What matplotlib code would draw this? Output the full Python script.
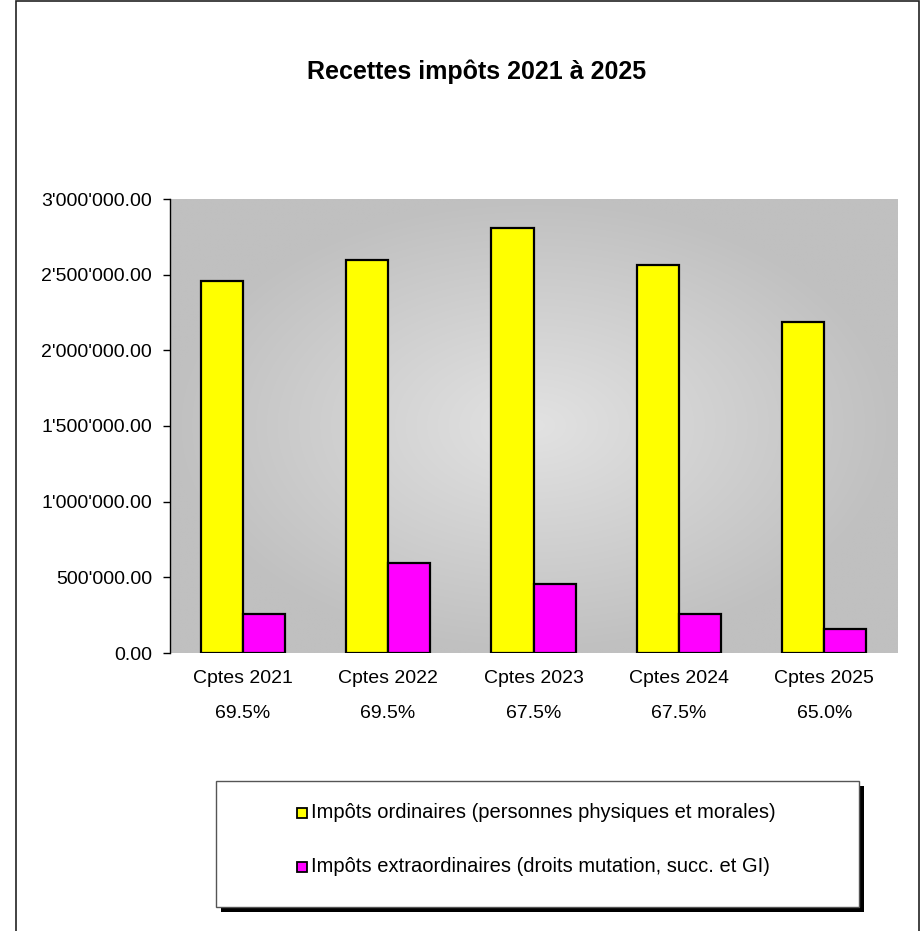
import numpy as np
import matplotlib
matplotlib.use("Agg")
import matplotlib.pyplot as plt
from matplotlib.patches import Rectangle
from matplotlib.ticker import FuncFormatter

plt.rcParams['font.family'] = ['Liberation Sans', 'DejaVu Sans']

categories = ["Cptes 2021", "Cptes 2022", "Cptes 2023", "Cptes 2024", "Cptes 2025"]
percentages = ["69.5%", "69.5%", "67.5%", "67.5%", "65.0%"]
ordinaires = [2458000, 2595000, 2809000, 2564000, 2189000]
extraordinaires = [256000, 596000, 455000, 260000, 157000]
series_names = ["Impôts ordinaires (personnes physiques et morales)",
                "Impôts extraordinaires (droits mutation, succ. et GI)"]
series_colors = ["#FFFF00", "#FF00FF"]
title = "Recettes impôts 2021 à 2025"

W, H = 922, 931
fig = plt.figure(figsize=(W / 100, H / 100), dpi=100)

def fx(x):
    return x / W

def fy(y):
    return 1 - y / H

# outer border
fig.add_artist(Rectangle((fx(16), fy(940)), fx(919) - fx(16), fy(0.7) - fy(940),
                         transform=fig.transFigure, fill=False, edgecolor='#222222', lw=1.2))

L, R, T, B = 170, 897, 199, 653
ax = fig.add_axes([fx(L), fy(B), fx(R) - fx(L), fy(T) - fy(B)])

n = len(categories)
ax.set_xlim(-0.5, n - 0.5)
ax.set_ylim(0, 3000000)

# radial gradient background
ny, nx = 300, 400
yy, xx = np.mgrid[-1:1:ny * 1j, -1:1:nx * 1j]
r = np.clip(np.sqrt(xx ** 2 + yy ** 2) / 1.0, 0, 1)
g = (0xe2 - (0xe2 - 0xc0) * r) / 255.0
img = np.dstack([g, g, g])
ax.imshow(img, extent=[-0.5, n - 0.5, 0, 3000000], aspect='auto', zorder=0,
          interpolation='bilinear')

x = np.arange(n)
w = 0.29
ax.bar(x - w / 2, ordinaires, width=w, color=series_colors[0], edgecolor='black',
       linewidth=1.6, zorder=3)
ax.bar(x + w / 2, extraordinaires, width=w, color=series_colors[1], edgecolor='black',
       linewidth=1.6, zorder=3)

ax.set_yticks(np.arange(0, 3000001, 500000))
ax.yaxis.set_major_formatter(FuncFormatter(lambda v, p: f"{v:,.2f}".replace(",", "'")))
ax.yaxis.grid(True, color='black', linewidth=1.0, zorder=1)
ax.set_axisbelow(True)
for gl in ax.get_ygridlines():
    if abs(gl.get_ydata()[0] - 3000000) < 1 or abs(gl.get_ydata()[0]) < 1:
        gl.set_visible(False)

ax.set_xticks(x)
ax.set_xticklabels(categories)
ax.tick_params(axis='x', length=0, pad=12, labelsize=14)
ax.tick_params(axis='y', length=5, width=1, pad=8, labelsize=14, direction='out')

for s in ['top', 'right', 'bottom']:
    ax.spines[s].set_visible(False)
ax.spines['left'].set_color('black')
ax.spines['left'].set_linewidth(1.0)

for i, p in enumerate(percentages):
    ax.annotate(p, xy=(x[i], 0), xycoords=('data', 'axes fraction'),
                xytext=(0, -43.5), textcoords='offset points',
                ha='center', va='center', fontsize=14)

fig.text(fx(477), fy(72), title, ha='center', va='center', fontsize=18, fontweight='bold')

# legend
fig.add_artist(Rectangle((fx(221), fy(912)), fx(864) - fx(221), fy(786) - fy(912),
                         transform=fig.transFigure, facecolor='black', edgecolor='black', lw=0))
fig.add_artist(Rectangle((fx(216), fy(907)), fx(859) - fx(216), fy(781) - fy(907),
                         transform=fig.transFigure, facecolor='white', edgecolor='#555555', lw=1.0))
for k, (name, col) in enumerate(zip(series_names, series_colors)):
    yc = 813 + k * 54
    fig.add_artist(Rectangle((fx(297), fy(yc + 5)), fx(307) - fx(297), fy(yc - 5) - fy(yc + 5),
                             transform=fig.transFigure, facecolor=col, edgecolor='black', lw=1.3))
    fig.text(fx(311), fy(yc), name, ha='left', va='center', fontsize=14.5)

fig.savefig("out.png", dpi=100)
